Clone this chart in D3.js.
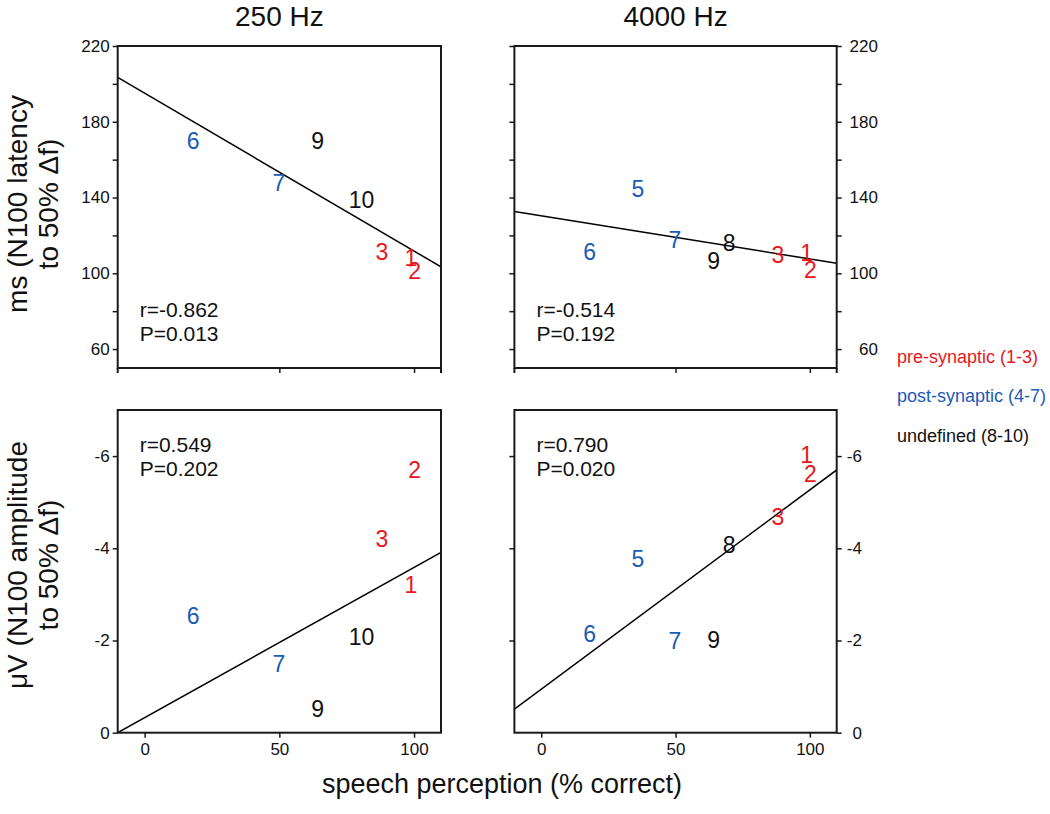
<!DOCTYPE html>
<html><head><meta charset="utf-8">
<script src="https://cdn.jsdelivr.net/npm/d3@7"></script>
<style>body{margin:0;background:#fff}svg{display:block}text{font-family:"Liberation Sans",Arial,sans-serif}</style>
</head><body><svg id="c" width="1050" height="814"></svg>
<script>
// ---- data ----
const subjects = [1,2,3,4,5,6,7,8,9,10];
const groupOf = [0,0,0,1,1,1,1,2,2,2];
const speech = [98.8, 100.2, 88.1, null, 36, 18, 49.8, 70, 64.2, 80.5];
const latency250 = [108, 101.6, 111.3, null, null, 169.8, 147.6, null, 170, 138.8];
const latency4000 = [111, 101.9, 109.6, null, 144.4, 111.4, 117.5, 116, 106.6, null];
const amplitude250 = [-3.22, -5.71, -4.20, null, null, -2.54, -1.49, null, -0.51, -2.08];
const amplitude4000 = [-6.03, -5.62, -4.68, null, -3.78, -2.15, -1.99, -4.07, -2.01, null];
const fitX = [-10, 110];
const fitLat250 = [203.4, 103.4];
const fitLat4000 = [132.6, 105.3];
const fitAmp250 = [0.0, -3.91];
const fitAmp4000 = [-0.51, -5.70];
const stats = [["r=-0.862","P=0.013"],["r=-0.514","P=0.192"],["r=0.549","P=0.202"],["r=0.790","P=0.020"]];
const freqTitles = ["250 Hz", "4000 Hz"];
const groupNames = ["pre-synaptic (1-3)", "post-synaptic (4-7)", "undefined (8-10)"];
const groupColors = ["#e8161c", "#1a5bb5", "#111111"];
const latTicks = [60,80,100,120,140,160,180,200,220];
const latLabels = [60,100,140,180,220];
const ampTicks = [-6,-4,-2,0];
const xTicks = [0,50,100];

// ---- layout ----
const svg = d3.select("#c");
const cols = [[117.7, 441], [514.4, 836.7]];
const rows = [[46, 368], [410, 732.7]];
const panels = [
  {c:0, r:0, y:latency250, fit:fitLat250, st:stats[0]},
  {c:1, r:0, y:latency4000, fit:fitLat4000, st:stats[1]},
  {c:0, r:1, y:amplitude250, fit:fitAmp250, st:stats[2]},
  {c:1, r:1, y:amplitude4000, fit:fitAmp4000, st:stats[3]},
];
const ink = "#1a1a1a";
panels.forEach(p => {
  const [x0,x1] = cols[p.c], [y0,y1] = rows[p.r];
  const x = d3.scaleLinear().domain([-10,110]).range([x0,x1]);
  const y = p.r===0 ? d3.scaleLinear().domain([50,220]).range([y1,y0])
                    : d3.scaleLinear().domain([0,-7]).range([y1,y0]);
  const g = svg.append("g");
  const cid = "clip"+p.c+p.r;
  svg.append("clipPath").attr("id",cid).append("rect").attr("x",x0).attr("y",y0).attr("width",x1-x0).attr("height",y1-y0);
  // regression line
  g.append("path").attr("clip-path",`url(#${cid})`)
    .attr("d", d3.line()(fitX.map((v,i)=>[x(v), y(p.fit[i])])))
    .attr("stroke","#000").attr("stroke-width",1.5).attr("fill","none");
  // frame
  g.append("rect").attr("x",x0).attr("y",y0).attr("width",x1-x0).attr("height",y1-y0)
    .attr("fill","none").attr("stroke",ink).attr("stroke-width",2);
  // x axis
  if (p.r===1) {
    const ax = g.append("g").attr("transform",`translate(0,${y1})`)
      .call(d3.axisBottom(x).tickValues(xTicks).tickSize(5).tickPadding(5).tickFormat(d3.format("d")));
    ax.select(".domain").remove();
    ax.selectAll("line").attr("stroke",ink).attr("stroke-width",1.5);
    ax.selectAll("text").attr("font-size",17).attr("fill","#111");
  } else {
    const ax = g.append("g").attr("transform",`translate(0,${y1})`)
      .call(d3.axisBottom(x).tickValues([50,100]).tickSize(5).tickFormat(""));
    ax.select(".domain").remove();
    ax.selectAll("line").attr("stroke",ink).attr("stroke-width",1.5);
    [x0,x1].forEach(xx => g.append("line").attr("x1",xx).attr("x2",xx).attr("y1",y1).attr("y2",y1+5).attr("stroke",ink).attr("stroke-width",2));
  }
  // y axis
  const tv = p.r===0 ? latTicks : ampTicks;
  const labelSet = p.r===0 ? latLabels : ampTicks;
  const fmt = d => labelSet.includes(d) ? d3.format("d")(d).replace("−","-") : "";
  if (p.c===0) {
    const ay = g.append("g").attr("transform",`translate(${x0},0)`)
      .call(d3.axisLeft(y).tickValues(tv).tickSize(5).tickPadding(3).tickFormat(fmt));
    ay.select(".domain").remove();
    ay.selectAll("line").attr("stroke",ink).attr("stroke-width",1.5);
    ay.selectAll("text").attr("font-size",17).attr("fill","#111");
  } else {
    const al = g.append("g").attr("transform",`translate(${x0},0)`)
      .call(d3.axisLeft(y).tickValues(tv.filter(d=>d!==0)).tickSize(5).tickFormat(""));
    al.select(".domain").remove();
    al.selectAll("line").attr("stroke",ink).attr("stroke-width",1.5);
    const ar = g.append("g").attr("transform",`translate(${x1},0)`)
      .call(d3.axisRight(y).tickValues(tv).tickSize(5).tickPadding(3).tickFormat(fmt));
    ar.select(".domain").remove();
    ar.selectAll("line").attr("stroke",ink).attr("stroke-width",1.5);
    const rEdge = p.r===0 ? 878 : 862;
    ar.selectAll("text").attr("font-size",17).attr("fill","#111")
      .attr("text-anchor","end").attr("x", rEdge - x1);
  }
  // points as numbers
  subjects.forEach((s,i) => {
    if (p.y[i]==null || speech[i]==null) return;
    g.append("text").attr("x",x(speech[i])).attr("y",y(p.y[i])).attr("dy","0.36em")
      .attr("text-anchor","middle").attr("font-size",23).attr("fill",groupColors[groupOf[i]])
      .text(s);
  });
  // stats
  const sy = p.r===0 ? [317, 340.5] : [451.7, 475.7];
  p.st.forEach((t,k) => g.append("text").attr("x", x0+22).attr("y", sy[k])
    .attr("font-size",21).attr("fill","#111").text(t));
});
// titles
freqTitles.forEach((t,i) => svg.append("text").attr("x",(cols[i][0]+cols[i][1])/2).attr("y",25.5)
  .attr("text-anchor","middle").attr("font-size",28).attr("fill","#111").text(t));
// y titles
const yTitles = [["ms (N100 latency","to 50% \u0394f)"],["\u03bcV (N100 amplitude","to 50% \u0394f)"]];
yTitles.forEach((lines,r) => {
  const cy = r===0 ? 204 : 565;
  lines.forEach((l,k) => svg.append("text")
    .attr("transform",`translate(${k===0?26.7:58.3},${cy}) rotate(-90)`)
    .attr("text-anchor","middle").attr("font-size",28).attr("fill","#111").text(l));
});
// x title
svg.append("text").attr("x",502).attr("y",793).attr("text-anchor","middle")
  .attr("font-size",27).attr("fill","#111").text("speech perception (% correct)");
// legend
groupNames.forEach((n,i) => svg.append("text").attr("x",897).attr("y",362.7+i*39.5)
  .attr("font-size",18).attr("fill",groupColors[i]).text(n));
</script></body></html>
